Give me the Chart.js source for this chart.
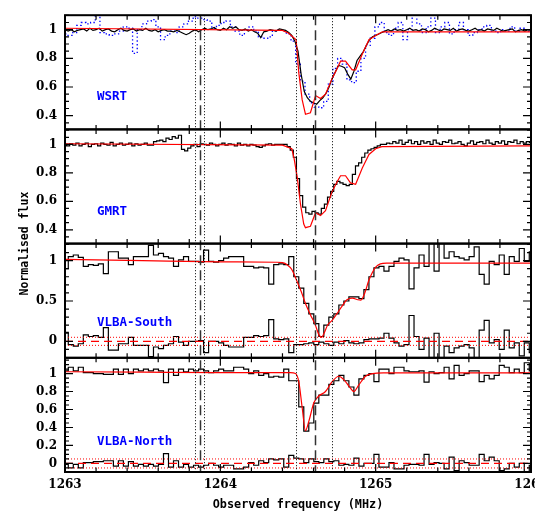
<!DOCTYPE html>
<html><head><meta charset="utf-8">
<script src="https://cdn.jsdelivr.net/npm/chart.js@4.4.1/dist/chart.umd.min.js"></script>
<style>
html,body{margin:0;padding:0;background:#fff;overflow:hidden;width:535px;height:513px}
#wrap{position:absolute;left:0;top:0;width:570px;height:513px}
canvas{display:block}
</style>
</head><body><div id="wrap"><canvas id="c" width="570" height="513" style="width:570px;height:513px"></canvas></div>
<script>
// ---------------- DATA ----------------
// Fine-resolution spectra (WSRT, GMRT): 1263.00 .. 1266.00 MHz, step 0.02 MHz
const FINE_START = 1263, FINE_STEP = 0.02;
const wsrtFlux = [
1.0,0.99,1.0,0.985,0.995,1.0,1.005,0.99,1.01,0.995,
1.0,1.01,0.99,1.0,1.005,0.99,0.985,1.0,1.01,0.995,
0.99,1.0,1.005,0.99,1.0,0.995,1.01,0.995,0.99,1.0,
0.985,0.995,1.0,0.99,0.99,0.985,0.995,0.985,0.975,0.965,
0.975,0.99,1.0,0.985,1.0,1.01,1.0,1.005,1.015,1.0,
0.995,1.01,1.0,1.02,1.01,1.02,1.0,0.995,1.005,0.99,
1.0,0.985,0.975,0.945,0.985,0.99,1.0,0.995,0.99,1.005,
1.0,0.995,0.98,0.96,0.92,0.85,0.69,0.57,0.525,0.50,
0.49,0.48,0.505,0.525,0.555,0.60,0.66,0.705,0.75,0.745,
0.735,0.69,0.655,0.71,0.785,0.815,0.845,0.89,0.93,0.95,
0.96,0.97,0.98,0.99,1.0,0.99,1.005,0.995,1.0,0.99,
1.0,1.01,0.995,1.0,0.99,1.005,1.0,0.985,0.995,1.01,
1.0,0.99,1.005,1.0,0.995,1.01,0.99,1.0,1.005,0.995,
0.99,1.0,1.01,0.995,1.0,0.99,1.005,1.0,0.995,1.01,
1.0,0.99,0.995,1.0,1.005,0.985,0.995,1.0,0.99,1.0,0.995];
const gmrtFlux = [
1.0,0.99,1.005,0.995,1.01,0.99,1.0,1.01,0.985,1.0,
1.005,0.99,1.01,1.0,0.995,1.015,0.99,1.0,1.01,0.995,
1.0,1.01,0.99,1.005,0.995,1.0,1.01,0.995,0.995,1.02,
1.025,1.03,1.02,1.045,1.035,1.055,1.045,1.065,0.965,0.955,
0.975,0.99,1.0,0.985,1.005,1.0,0.995,1.01,1.0,0.99,
1.0,1.01,0.995,1.005,1.0,0.99,1.01,0.995,1.0,0.99,
1.0,0.995,0.985,0.98,0.99,1.0,1.005,0.995,1.0,1.0,
1.0,1.0,0.985,0.96,0.91,0.76,0.64,0.56,0.52,0.51,
0.53,0.52,0.51,0.55,0.58,0.63,0.67,0.72,0.74,0.73,
0.72,0.71,0.72,0.79,0.85,0.87,0.91,0.94,0.96,0.97,
0.98,0.99,1.0,1.0,1.01,1.005,1.02,1.01,1.03,1.0,
1.015,1.03,1.005,1.02,1.0,1.025,1.01,1.02,1.0,1.03,
1.01,1.0,1.02,1.015,1.03,1.005,1.01,1.02,1.0,0.99,
1.01,1.025,1.0,1.015,1.02,1.005,1.03,1.01,1.0,1.02,
1.01,1.025,1.0,1.02,1.015,1.03,1.005,1.02,1.01,1.02,1.015];
// Second WSRT spectrum (blue dotted): 1263.00 .. 1266.00, step 0.03 MHz
const ALT_START = 1263, ALT_STEP = 0.03;
const wsrtAltFlux = [
0.97,0.96,0.98,1.03,1.05,1.04,1.05,1.10,0.98,0.97,
0.96,0.97,0.99,1.02,1.01,0.835,1.0,1.04,1.06,1.07,
1.02,0.93,0.96,0.99,0.98,1.02,1.04,1.06,1.09,1.08,
1.07,1.06,1.01,1.03,1.05,1.06,1.02,0.99,0.96,1.0,
1.02,0.99,0.95,0.94,0.95,0.99,1.0,0.99,0.97,0.92,
0.76,0.64,0.55,0.49,0.46,0.455,0.50,0.62,0.73,0.80,
0.76,0.65,0.63,0.71,0.80,0.89,0.94,1.02,1.05,0.98,
0.96,1.01,1.05,0.93,1.0,1.10,1.04,0.98,1.02,1.08,
0.98,1.02,1.05,0.97,1.0,1.05,1.0,0.96,0.98,1.0,
1.02,1.03,0.99,0.98,1.0,0.99,1.02,0.99,1.01,1.0,0.99];
// Fit models
const wsrtModelFreq = [1263.0,1264.40,1264.44,1264.488,1264.505,1264.527,1264.548,1264.58,1264.613,1264.645,1264.677,1264.72,1264.753,1264.774,1264.806,1264.849,1264.871,1264.914,1264.957,1265.0,1265.043,1266.0];
const wsrtModelFlux = [1.01,0.995,0.975,0.93,0.70,0.51,0.41,0.42,0.54,0.52,0.55,0.66,0.73,0.78,0.78,0.72,0.72,0.83,0.93,0.96,0.985,0.985];
const gmrtModelFreq = [1263.0,1264.40,1264.46,1264.475,1264.495,1264.516,1264.537,1264.548,1264.58,1264.613,1264.645,1264.677,1264.72,1264.753,1264.774,1264.806,1264.838,1264.871,1264.914,1264.957,1265.0,1265.04,1266.0];
const gmrtModelFlux = [1.005,0.995,0.97,0.90,0.77,0.58,0.44,0.415,0.425,0.52,0.50,0.535,0.67,0.74,0.78,0.78,0.73,0.72,0.835,0.93,0.97,0.985,0.99];
// VLBA channels: first centre 1263.005 MHz, width 1/31 MHz
const CH_START = 1263.005, CH_WIDTH = 1 / 31;
const vlbaSFlux = [
0.90,1.05,1.07,1.04,0.93,0.95,0.94,0.96,0.84,1.11,
1.11,1.03,1.03,0.95,1.05,1.05,1.05,1.19,1.07,1.09,
1.05,1.03,0.93,1.01,1.05,0.99,0.99,0.98,1.13,0.99,
0.98,1.0,1.03,1.05,1.05,1.05,0.93,0.93,0.91,0.92,
0.91,0.71,0.95,0.96,0.95,1.05,0.80,0.66,0.47,0.34,
0.22,0.06,0.20,0.30,0.34,0.45,0.50,0.55,0.55,0.53,
0.64,0.80,0.91,0.93,0.87,0.93,0.99,1.03,1.01,0.65,
0.91,1.07,0.93,1.28,0.87,1.28,1.03,1.11,1.05,1.03,
1.01,1.05,1.17,0.83,0.71,0.99,0.95,1.07,0.83,1.05,
0.99,1.15,0.99,1.11];
const vlbaSResid = [
0.11,-0.04,-0.06,-0.03,0.08,0.06,0.07,0.05,0.17,-0.11,
-0.11,-0.03,-0.03,0.05,-0.05,-0.05,-0.05,-0.19,-0.07,-0.09,
-0.05,-0.03,0.06,-0.01,-0.05,0.0,0.0,0.01,-0.14,0.0,
0.0,-0.02,-0.05,-0.07,-0.07,-0.07,0.05,0.05,0.07,0.06,
0.07,0.27,0.03,0.02,0.03,-0.14,-0.04,-0.04,-0.03,-0.02,
-0.04,-0.01,-0.03,-0.05,-0.01,-0.03,0.01,-0.02,-0.03,-0.02,
0.02,0.03,0.03,0.04,0.10,0.04,-0.02,-0.06,-0.04,0.32,
0.06,-0.10,0.04,-0.30,0.10,-0.30,-0.06,-0.14,-0.08,-0.06,
-0.04,-0.08,-0.20,0.14,0.26,-0.02,0.02,-0.10,0.14,-0.08,
-0.02,-0.18,-0.02,-0.14];
const vlbaNFlux = [
1.03,1.07,1.03,1.07,1.01,1.01,1.0,1.0,0.99,0.99,
1.05,0.99,1.05,1.0,1.05,1.03,1.05,1.03,1.05,1.03,
0.90,1.05,0.98,1.05,1.02,1.05,1.03,1.05,1.03,1.01,
1.03,1.05,1.03,1.03,1.07,1.07,1.05,1.0,1.03,0.98,
1.0,0.96,0.97,0.96,1.05,0.92,0.92,0.63,0.36,0.45,
0.67,0.76,0.76,0.88,0.92,0.98,0.92,0.85,0.76,0.94,
0.98,1.0,0.91,1.05,1.05,1.0,1.07,1.07,1.03,1.02,
1.02,1.03,0.905,1.02,1.0,1.01,1.07,0.94,1.09,0.98,
1.0,1.03,1.03,0.91,0.98,0.94,0.98,1.09,1.07,1.01,
1.05,1.01,1.12,1.03];
const vlbaNResid = [
-0.01,-0.05,-0.01,-0.05,0.01,0.01,0.02,0.02,0.03,0.03,
-0.03,0.03,-0.03,0.02,-0.03,-0.01,-0.03,-0.01,-0.03,-0.01,
0.11,-0.04,0.03,-0.04,-0.01,-0.04,-0.02,-0.04,-0.02,0.0,
-0.02,-0.04,-0.02,-0.02,-0.06,-0.06,-0.04,0.01,-0.02,0.03,
0.01,0.05,0.04,0.05,-0.04,0.09,0.06,0.05,0.01,0.05,
0.02,0.01,0.05,0.02,0.03,-0.02,-0.01,-0.02,0.06,-0.03,
0.0,0.0,0.10,-0.04,-0.04,0.01,-0.06,-0.06,-0.02,-0.01,
-0.01,-0.02,0.10,-0.01,0.01,0.0,-0.06,0.07,-0.08,0.03,
0.01,-0.02,-0.02,0.10,0.03,0.07,0.03,-0.08,-0.06,0.0,
-0.04,0.0,-0.11,-0.02];
const vlbaSModelFreq = [1263.0,1263.5,1264.0,1264.36,1264.40,1264.43,1264.46,1264.49,1264.52,1264.55,1264.58,1264.61,1264.635,1264.652,1264.668,1264.69,1264.72,1264.75,1264.785,1264.815,1264.85,1264.885,1264.905,1264.93,1264.955,1264.978,1265.0,1265.03,1265.07,1266.0];
const vlbaSModelFlux = [1.015,1.0,0.985,0.98,0.975,0.95,0.89,0.76,0.62,0.46,0.33,0.21,0.08,0.05,0.10,0.20,0.26,0.34,0.44,0.515,0.535,0.515,0.51,0.60,0.75,0.85,0.92,0.96,0.97,0.97];
const vlbaNModelFreq = [1263.0,1263.5,1264.0,1264.45,1264.484,1264.505,1264.527,1264.548,1264.57,1264.602,1264.634,1264.677,1264.72,1264.763,1264.796,1264.828,1264.86,1264.892,1264.935,1264.979,1265.05,1266.0];
const vlbaNModelFlux = [1.02,1.015,1.01,1.01,1.0,0.91,0.62,0.365,0.47,0.675,0.75,0.80,0.91,0.97,0.93,0.86,0.80,0.875,0.97,1.0,1.007,1.007];
// residual reference levels
const residZero = 0, residSigma = 0.05;
// component markers (MHz)
const dottedFreq = [1263.839, 1263.897, 1264.488, 1264.72];
const dashedFreq = [1263.866, 1264.609];
// axis ticks
const xTickLabels = [1263, 1264, 1265, 1266];
const wsrtTicks = [0.4, 0.6, 0.8, 1];
const gmrtTicks = [0.4, 0.6, 0.8, 1];
const vlbaSTicks = [0, 0.5, 1];
const vlbaNTicks = [0, 0.2, 0.4, 0.6, 0.8, 1];
const panelNames = ['WSRT', 'GMRT', 'VLBA-South', 'VLBA-North'];

// ---------------- BUILD ----------------
const fineFreq = wsrtFlux.map((_, i) => FINE_START + i * FINE_STEP);
const altFreq = wsrtAltFlux.map((_, i) => ALT_START + i * ALT_STEP);
const chanFreq = vlbaSFlux.map((_, i) => CH_START + i * CH_WIDTH);
const pts = (xs, ys) => ys.map((y, i) => ({x: xs[i], y}));
const XMIN = 1263, XMAX = 1266;
const hline = v => [{x: XMIN, y: v}, {x: XMAX, y: v}];

const panels = [
  {id: 'yW', min: 0.304, max: 1.101, major: 0.2, minor: 0.05, ticks: wsrtTicks, name: panelNames[0], at: [1263.206, 0.53]},
  {id: 'yG', min: 0.303, max: 1.106, major: 0.2, minor: 0.05, ticks: gmrtTicks, name: panelNames[1], at: [1263.206, 0.526]},
  {id: 'yS', min: -0.204, max: 1.211, major: 0.5, minor: 0.1, ticks: vlbaSTicks, name: panelNames[2], at: [1263.206, 0.235]},
  {id: 'yN', min: -0.095, max: 1.175, major: 0.2, minor: 0.05, ticks: vlbaNTicks, name: panelNames[3], at: [1263.206, 0.244]}
];

const RED = '#ff0000', BLACK = '#000000', BLUE = '#0000ff';
const base = {pointRadius: 0, pointHoverRadius: 0, fill: false, tension: 0, borderWidth: 1.2};
const datasets = [
  // WSRT
  {...base, yAxisID: 'yW', data: pts(wsrtModelFreq, wsrtModelFlux), borderColor: RED, order: 0},
  {...base, yAxisID: 'yW', data: pts(fineFreq, wsrtFlux), borderColor: BLACK, order: 1},
  {...base, yAxisID: 'yW', data: pts(altFreq, wsrtAltFlux), borderColor: BLUE, borderDash: [1.4, 2.4], stepped: 'middle', borderWidth: 1.3, order: 3},
  // GMRT
  {...base, yAxisID: 'yG', data: pts(gmrtModelFreq, gmrtModelFlux), borderColor: RED, order: 0},
  {...base, yAxisID: 'yG', data: pts(fineFreq, gmrtFlux), borderColor: BLACK, stepped: 'middle', order: 1},
  // VLBA South
  {...base, yAxisID: 'yS', data: pts(vlbaSModelFreq, vlbaSModelFlux), borderColor: RED, cubicInterpolationMode: 'monotone', order: 0},
  {...base, yAxisID: 'yS', data: pts(chanFreq, vlbaSFlux), borderColor: BLACK, stepped: 'middle', order: 1},
  {...base, yAxisID: 'yS', data: pts(chanFreq, vlbaSResid), borderColor: BLACK, stepped: 'middle', order: 1},
  {...base, yAxisID: 'yS', data: hline(residZero), borderColor: RED, borderDash: [8, 5], order: 0},
  {...base, yAxisID: 'yS', data: hline(residZero + residSigma), borderColor: RED, borderDash: [1, 2], borderWidth: 1, order: 0},
  {...base, yAxisID: 'yS', data: hline(residZero - residSigma), borderColor: RED, borderDash: [1, 2], borderWidth: 1, order: 0},
  // VLBA North
  {...base, yAxisID: 'yN', data: pts(vlbaNModelFreq, vlbaNModelFlux), borderColor: RED, cubicInterpolationMode: 'monotone', order: 0},
  {...base, yAxisID: 'yN', data: pts(chanFreq, vlbaNFlux), borderColor: BLACK, stepped: 'middle', order: 1},
  {...base, yAxisID: 'yN', data: pts(chanFreq, vlbaNResid), borderColor: BLACK, stepped: 'middle', order: 1},
  {...base, yAxisID: 'yN', data: hline(residZero), borderColor: RED, borderDash: [8, 5], order: 0},
  {...base, yAxisID: 'yN', data: hline(residZero + residSigma), borderColor: RED, borderDash: [1, 2], borderWidth: 1, order: 0},
  {...base, yAxisID: 'yN', data: hline(residZero - residSigma), borderColor: RED, borderDash: [1, 2], borderWidth: 1, order: 0}
];

const numFont = {family: '"DejaVu Serif", serif', weight: 'bold', size: 12};
const fmt = v => String(+Number(v).toFixed(2));

const scales = {
  x: {
    type: 'linear', position: 'bottom', min: XMIN, max: XMAX,
    afterBuildTicks: s => { s.ticks = xTickLabels.map(v => ({value: v})); },
    afterFit: s => { s.height = 41; },
    grid: {display: false, drawTicks: false}, border: {display: false},
    ticks: {font: numFont, color: '#000', padding: 6, maxRotation: 0, autoSkip: false, callback: v => String(v)},
    title: {display: true, text: 'Observed frequency (MHz)', color: '#000',
            font: {family: '"DejaVu Sans Mono", monospace', weight: 'bold', size: 11.8}, padding: {top: 0, bottom: 1}}
  }
};
panels.forEach((p, k) => {
  scales[p.id] = {
    type: 'linear', position: 'left', stack: 'panels', stackWeight: 1, weight: 10 - k,
    min: p.min, max: p.max,
    afterBuildTicks: s => { s.ticks = p.ticks.map(v => ({value: v})); },
    afterFit: s => { s.width = 65; },
    grid: {display: false, drawTicks: false}, border: {display: false},
    ticks: {font: numFont, color: '#000', padding: 8, autoSkip: false, callback: v => fmt(v)}
  };
});

const decor = {
  id: 'decor',
  beforeDatasetDraw(chart, args) {
    const ys = chart.scales[args.meta.yAxisID], ca = chart.chartArea, ctx = chart.ctx;
    ctx.save(); ctx.beginPath();
    ctx.rect(ca.left, ys.top, ca.right - ca.left, ys.bottom - ys.top); ctx.clip();
  },
  afterDatasetDraw(chart) { chart.ctx.restore(); },
  afterDatasetsDraw(chart) {
    const ctx = chart.ctx, xs = chart.scales.x, ca = chart.chartArea;
    ctx.save();
    const vline = (f, dash, w, col) => {
      const px = Math.round(xs.getPixelForValue(f)) + 0.5;
      ctx.beginPath(); ctx.setLineDash(dash); ctx.lineWidth = w; ctx.strokeStyle = col;
      ctx.moveTo(px, ca.top); ctx.lineTo(px, ca.bottom); ctx.stroke();
    };
    dottedFreq.forEach(f => vline(f, [1, 2], 1, '#000'));
    dashedFreq.forEach(f => vline(f, [10, 5], 1.5, '#333'));
    ctx.setLineDash([]);
    ctx.font = 'bold 12.5px "DejaVu Sans Mono", monospace';
    ctx.fillStyle = BLUE; ctx.textBaseline = 'middle'; ctx.textAlign = 'left';
    panels.forEach(p => {
      const ys = chart.scales[p.id];
      ctx.fillText(p.name, xs.getPixelForValue(p.at[0]), ys.getPixelForValue(p.at[1]));
    });
    ctx.strokeStyle = '#000';
    panels.forEach(p => {
      const ys = chart.scales[p.id];
      const top = ys.top, bot = ys.bottom, L = ca.left, R = ca.right;
      ctx.lineWidth = 1.2; ctx.beginPath();
      for (let k = 0; k <= 15; k++) {
        const px = xs.getPixelForValue(XMIN + k * 0.2);
        const len = (k % 5 === 0) ? 8 : 4.5;
        ctx.moveTo(px, top); ctx.lineTo(px, top + len);
        ctx.moveTo(px, bot); ctx.lineTo(px, bot - len);
      }
      const n0 = Math.ceil(p.min / p.minor - 1e-9), n1 = Math.floor(p.max / p.minor + 1e-9);
      const ratio = Math.round(p.major / p.minor);
      for (let n = n0; n <= n1; n++) {
        const py = ys.getPixelForValue(n * p.minor);
        const len = (n % ratio === 0) ? 8 : 4;
        ctx.moveTo(L, py); ctx.lineTo(L + len, py);
        ctx.moveTo(R, py); ctx.lineTo(R - len, py);
      }
      ctx.stroke();
      ctx.lineWidth = 2;
      ctx.strokeRect(L, top, R - L, bot - top);
    });
    ctx.save();
    ctx.translate(25, (ca.top + ca.bottom) / 2);
    ctx.rotate(-Math.PI / 2);
    ctx.font = 'bold 11.5px "DejaVu Sans Mono", monospace';
    ctx.fillStyle = '#000'; ctx.textAlign = 'center'; ctx.textBaseline = 'middle';
    ctx.fillText('Normalised flux', 0, 0);
    ctx.restore();
    ctx.restore();
  }
};

new Chart(document.getElementById('c'), {
  type: 'line',
  data: {datasets},
  options: {
    responsive: false, animation: false, devicePixelRatio: 1, events: [],
    layout: {padding: {left: 0, top: 8, right: 39, bottom: 0}},
    plugins: {legend: {display: false}, tooltip: {enabled: false}},
    scales
  },
  plugins: [decor]
});
</script></body></html>
